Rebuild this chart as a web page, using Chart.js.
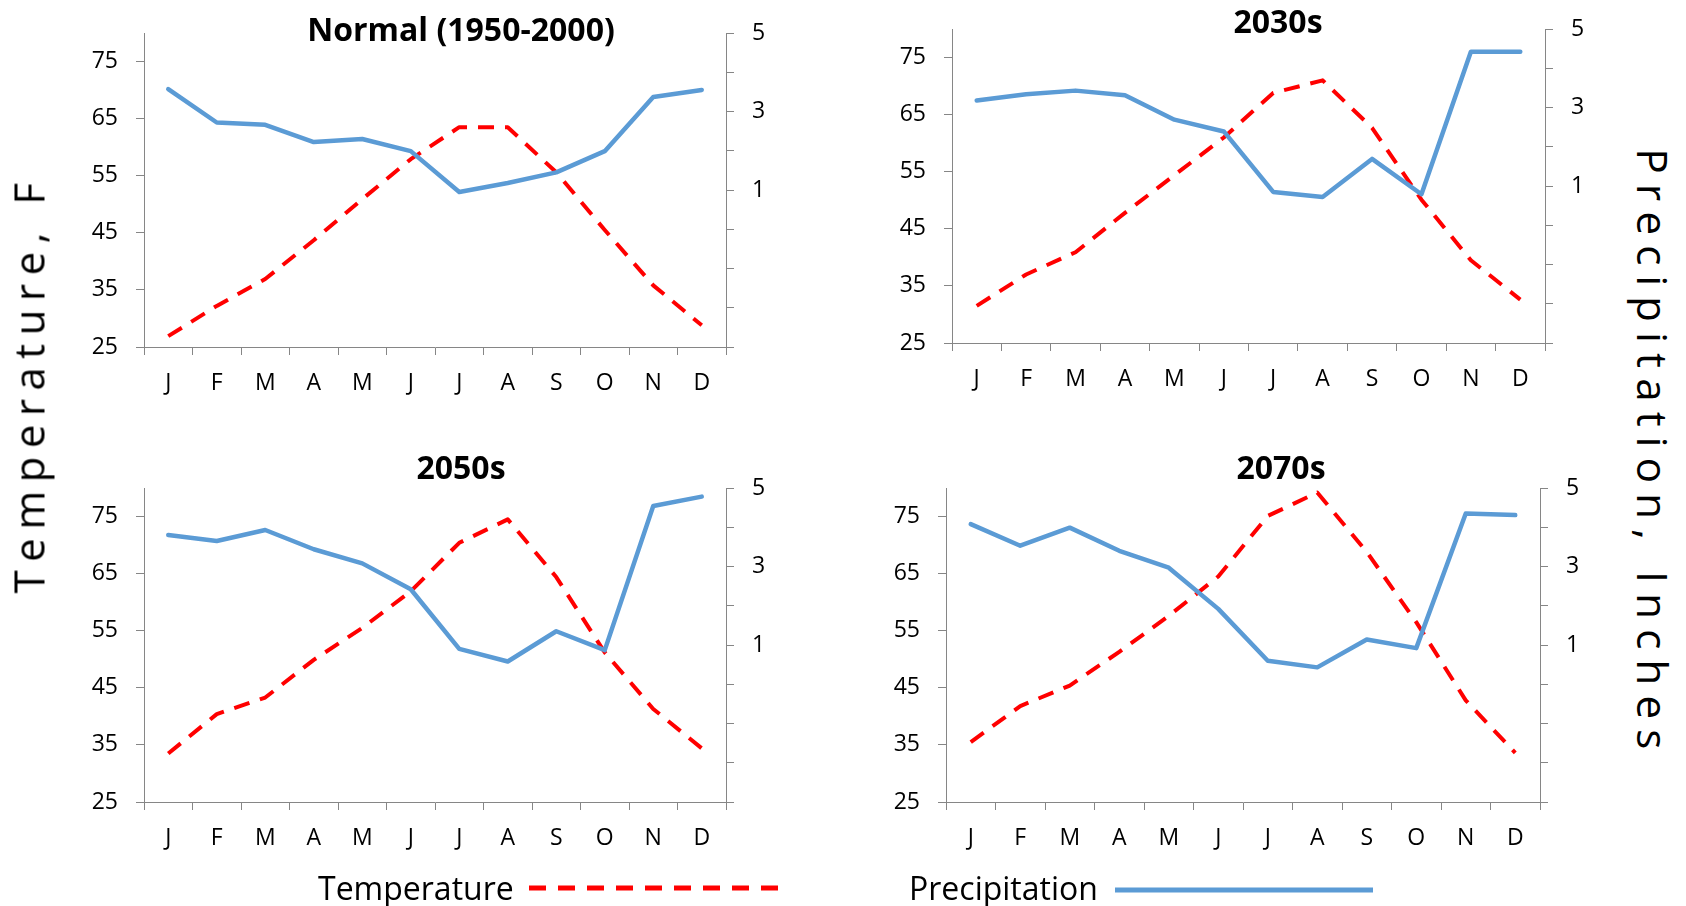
<!DOCTYPE html>
<html>
<head>
<meta charset="utf-8">
<script src="https://cdn.jsdelivr.net/npm/chart.js@4.4.1/dist/chart.umd.min.js"></script>
<style>
  body { margin: 0; background: #fff; width: 1686px; height: 906px; position: relative; overflow: hidden; font-family: 'Open Sans', sans-serif; color: #000; }
  canvas { position: absolute; }
  .title { position: absolute; transform: translate(-50%, -50%); font-weight: bold; font-size: 32px; white-space: nowrap; }
  .axis-title { position: absolute; font-size: 42px; white-space: nowrap; }
  .legend-text { position: absolute; font-size: 32px; white-space: nowrap; transform: translateY(-50%); }
  svg { position: absolute; left: 0; top: 0; }
</style>
</head>
<body>
<canvas id="c1"></canvas>
<canvas id="c2"></canvas>
<canvas id="c3"></canvas>
<canvas id="c4"></canvas>

<div class="title" style="left:461px; top:28px;">Normal (1950-2000)</div>
<div class="title" style="left:1278px; top:20px;">2030s</div>
<div class="title" style="left:461px; top:466px;">2050s</div>
<div class="title" style="left:1281px; top:466px;">2070s</div>

<div class="axis-title" id="tTitle">Temperature, F</div>
<div class="axis-title" id="pTitle">Precipitation, Inches</div>

<div class="legend-text" style="left:318px; top:887px;">Temperature</div>
<div class="legend-text" style="left:909px; top:887px;">Precipitation</div>
<svg width="1686" height="906">
  <line x1="529" y1="888" x2="780" y2="888" stroke="#FF0000" stroke-width="5" stroke-dasharray="17 12"/>
  <line x1="1115" y1="890" x2="1373" y2="890" stroke="#5B9BD5" stroke-width="5"/>
</svg>

<script>
// Data
const months = ['J', 'F', 'M', 'A', 'M', 'J', 'J', 'A', 'S', 'O', 'N', 'D'];
const tempTickLabels = [25, 35, 45, 55, 65, 75];
const precipTickLabels = [1, 3, 5];

const tempNormal = [26.9, 32.2, 36.9, 43.7, 50.9, 57.9, 63.5, 63.5, 55.6, 45.5, 35.8, 28.8];
const precipNormal = [3.57, 2.72, 2.66, 2.22, 2.30, 1.99, 0.95, 1.18, 1.45, 1.99, 3.37, 3.55];

const temp2030s = [31.5, 37.0, 40.9, 47.8, 54.4, 61.0, 68.8, 71.0, 62.7, 50.1, 39.5, 32.6];
const precip2030s = [3.18, 3.34, 3.43, 3.31, 2.69, 2.39, 0.85, 0.72, 1.69, 0.79, 4.42, 4.42];

const temp2050s = [33.5, 40.4, 43.3, 49.9, 55.5, 61.9, 70.4, 74.5, 64.4, 51.2, 41.3, 34.4];
const precip2050s = [3.80, 3.65, 3.93, 3.44, 3.08, 2.42, 0.90, 0.58, 1.35, 0.87, 4.54, 4.78];

const temp2070s = [35.5, 41.8, 45.4, 51.3, 57.6, 64.5, 75.1, 79.2, 68.8, 56.5, 42.8, 33.6];
const precip2070s = [4.08, 3.53, 3.99, 3.40, 2.97, 1.92, 0.60, 0.43, 1.14, 0.92, 4.35, 4.31];

// Layout
const AXIS_GRAY = '#868686';
const FONT = { family: "'Open Sans', sans-serif", size: 23 };
const LEFT_W = 90, RIGHT_W = 70, BOTTOM_H = 70, PAD_TOP = 20;

// spread the letters of a rotated axis title over a given length
function placeAxisTitle(el, cx, cy, length, angle) {
    const natural = el.offsetWidth;
    const n = el.textContent.length;
    const spacing = (length - natural) / (n - 1);
    el.style.letterSpacing = spacing + 'px';
    // trailing spacing sits at the end of the text, shift to keep the glyphs centred
    const shift = angle < 0 ? -spacing / 2 : spacing / 2;
    el.style.left = cx + 'px';
    el.style.top = (cy + shift) + 'px';
    el.style.transform = `translate(-50%, -50%) rotate(${angle}deg)`;
}

placeAxisTitle(document.getElementById('tTitle'), 28, 388, 410, -90);
placeAxisTitle(document.getElementById('pTitle'), 1653, 449, 601, 90);

function makeChart(id, area, temps, precs) {
    const canvas = document.getElementById(id);
    canvas.width = area.r - area.l + LEFT_W + RIGHT_W;
    canvas.height = area.b - area.t + PAD_TOP + BOTTOM_H;
    canvas.style.left = (area.l - LEFT_W) + 'px';
    canvas.style.top = (area.t - PAD_TOP) + 'px';

    return new Chart(canvas, {
        type: 'line',
        data: {
            labels: months,
            datasets: [{
                label: 'Precipitation',
                data: precs,
                yAxisID: 'yP',
                borderColor: '#5B9BD5',
                borderWidth: 4.5,
                borderJoinStyle: 'round',
                borderCapStyle: 'round',
                pointRadius: 0,
                tension: 0,
                order: 0
            }, {
                label: 'Temperature',
                data: temps,
                yAxisID: 'yT',
                borderColor: '#FF0000',
                borderWidth: 4,
                borderDash: [16, 11],
                borderJoinStyle: 'round',
                pointRadius: 0,
                tension: 0,
                order: 1
            }]
        },
        options: {
            responsive: false,
            animation: false,
            devicePixelRatio: 1,
            layout: { padding: { top: PAD_TOP, left: 0, right: 0, bottom: 0 } },
            plugins: { legend: { display: false }, tooltip: { enabled: false } },
            scales: {
                x: {
                    offset: true,
                    grid: { offset: true, drawOnChartArea: false, color: AXIS_GRAY, tickLength: 8 },
                    border: { color: AXIS_GRAY },
                    ticks: { color: '#000', font: FONT, padding: 15, autoSkip: false, maxRotation: 0 },
                    afterFit: s => { s.height = BOTTOM_H; s.paddingLeft = 0; s.paddingRight = 0; }
                },
                yT: {
                    position: 'left',
                    min: 25,
                    max: 80,
                    grid: { drawOnChartArea: false, color: AXIS_GRAY, tickLength: 8 },
                    border: { color: AXIS_GRAY },
                    ticks: {
                        stepSize: 5,
                        color: '#000',
                        font: FONT,
                        padding: 18,
                        callback: v => tempTickLabels.includes(v) ? String(v) : ''
                    },
                    afterFit: s => { s.width = LEFT_W; s.paddingTop = 0; s.paddingBottom = 0; }
                },
                yP: {
                    position: 'right',
                    min: -3,
                    max: 5,
                    grid: { drawOnChartArea: false, color: AXIS_GRAY, tickLength: 8 },
                    border: { color: AXIS_GRAY },
                    ticks: {
                        stepSize: 1,
                        color: '#000',
                        font: FONT,
                        padding: 18,
                        callback: v => precipTickLabels.includes(v) ? String(v) : ''
                    },
                    afterFit: s => { s.width = RIGHT_W; s.paddingTop = 0; s.paddingBottom = 0; }
                }
            }
        }
    });
}

makeChart('c1', { l: 144, r: 726, t: 33, b: 347 }, tempNormal, precipNormal);
makeChart('c2', { l: 952, r: 1545, t: 29, b: 343 }, temp2030s, precip2030s);
makeChart('c3', { l: 144, r: 726, t: 488, b: 802 }, temp2050s, precip2050s);
makeChart('c4', { l: 946, r: 1540, t: 488, b: 802 }, temp2070s, precip2070s);
</script>
</body>
</html>
